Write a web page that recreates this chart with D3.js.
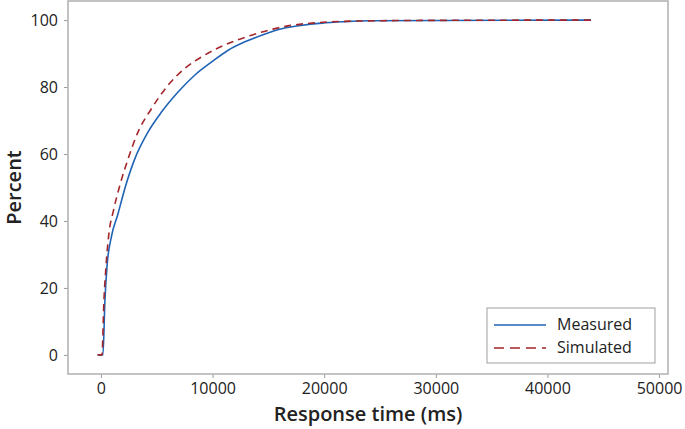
<!DOCTYPE html>
<html>
<head>
<meta charset="utf-8">
<title>Response time CDF</title>
<style>
  body { margin: 0; background: #fff; }
  svg { display: block; }
  .tick text { font-family: "Open Sans", sans-serif; font-size: 16px; fill: #222; }
  .tick line { stroke: #9a9a9a; }
  .domain { display: none; }
  .title { font-family: "Open Sans", sans-serif; font-size: 20px; font-weight: 600; fill: #222; }
  .legend text { font-family: "Open Sans", sans-serif; font-size: 16px; fill: #222; }
</style>
</head>
<body>
<div id="chart"></div>
<script src="https://d3js.org/d3.v7.min.js"></script>
<script>
// response time (ms) and cumulative percent
var measuredTime = [-300, 180, 360, 540, 950, 1500, 2150, 3050, 4240, 5440, 6930, 8420, 9920, 11400, 12900, 14400, 16300, 17900, 19800, 21700, 24100, 43900];
var measuredPct  = [0, 0, 16.4, 26.3, 35.5, 41.8, 49.8, 58.7, 66.7, 72.6, 78.6, 83.6, 87.5, 91, 93.5, 95.5, 97.5, 98.4, 99.1, 99.5, 99.8, 100];

var simulatedTime = [-300, 90, 270, 450, 720, 1100, 1700, 2450, 3340, 4540, 6030, 7530, 9320, 11400, 13500, 15400, 17200, 18900, 21400, 28600, 43900];
var simulatedPct  = [0, 0, 16.4, 26.3, 36.4, 42.8, 50.7, 58.7, 66.7, 73.6, 80.6, 85.6, 89.6, 93, 95.5, 97.3, 98.5, 99.1, 99.6, 99.9, 100];

var xTicks = [0, 10000, 20000, 30000, 40000, 50000];
var yTicks = [0, 20, 40, 60, 80, 100];
var seriesNames = ["Measured", "Simulated"];

var width = 685, height = 429;
var plot = { left: 68, right: 668, top: 1, bottom: 374 };

var svg = d3.select("#chart").append("svg")
    .attr("width", width)
    .attr("height", height);

var x = d3.scaleLinear().domain([-2950, 50800]).range([plot.left, plot.right]);
var y = d3.scaleLinear().domain([-5.7, 105.7]).range([plot.bottom, plot.top]);

// axes
svg.append("g")
    .attr("transform", "translate(0," + plot.bottom + ")")
    .call(d3.axisBottom(x).tickValues(xTicks).tickSize(4).tickPadding(5).tickFormat(d3.format("d")));

svg.append("g")
    .attr("transform", "translate(" + plot.left + ",0)")
    .call(d3.axisLeft(y).tickValues(yTicks).tickSize(4).tickPadding(6).tickFormat(d3.format("d")));

// frame
svg.append("rect")
    .attr("x", plot.left)
    .attr("y", plot.top)
    .attr("width", plot.right - plot.left)
    .attr("height", plot.bottom - plot.top)
    .attr("fill", "none")
    .attr("stroke", "#b4b4b4")
    .attr("stroke-width", 1.6);

var line = d3.line()
    .x(function(d) { return x(d[0]); })
    .y(function(d) { return y(d[1]); })
    .curve(d3.curveMonotoneX);

var measured = d3.zip(measuredTime, measuredPct);
var simulated = d3.zip(simulatedTime, simulatedPct);

svg.append("path")
    .datum(measured)
    .attr("d", line)
    .attr("fill", "none")
    .attr("stroke", "#1f63b5")
    .attr("stroke-width", 1.6);

svg.append("path")
    .datum(simulated)
    .attr("d", line)
    .attr("fill", "none")
    .attr("stroke", "#a3262a")
    .attr("stroke-width", 1.6)
    .attr("stroke-dasharray", "7,5");

// axis titles
svg.append("text")
    .attr("class", "title")
    .attr("x", (plot.left + plot.right) / 2)
    .attr("y", 421)
    .attr("text-anchor", "middle")
    .text("Response time (ms)");

svg.append("text")
    .attr("class", "title")
    .attr("transform", "translate(21," + (plot.top + plot.bottom) / 2 + ") rotate(-90)")
    .attr("text-anchor", "middle")
    .text("Percent");

// legend
var legend = svg.append("g").attr("class", "legend");
legend.append("rect")
    .attr("x", 487).attr("y", 308)
    .attr("width", 168).attr("height", 55)
    .attr("fill", "#fff")
    .attr("stroke", "#a0a0a0")
    .attr("stroke-width", 1);

var legendColors = ["#1f63b5", "#a3262a"];
var legendDash = [null, "10,6"];
seriesNames.forEach(function(name, i) {
    var ly = 325 + i * 23;
    legend.append("line")
        .attr("x1", 494).attr("x2", 546)
        .attr("y1", ly).attr("y2", ly)
        .attr("stroke", legendColors[i])
        .attr("stroke-width", 1.4)
        .attr("stroke-dasharray", legendDash[i]);
    legend.append("text")
        .attr("x", 557)
        .attr("y", ly + 5)
        .text(name);
});
</script>
</body>
</html>
